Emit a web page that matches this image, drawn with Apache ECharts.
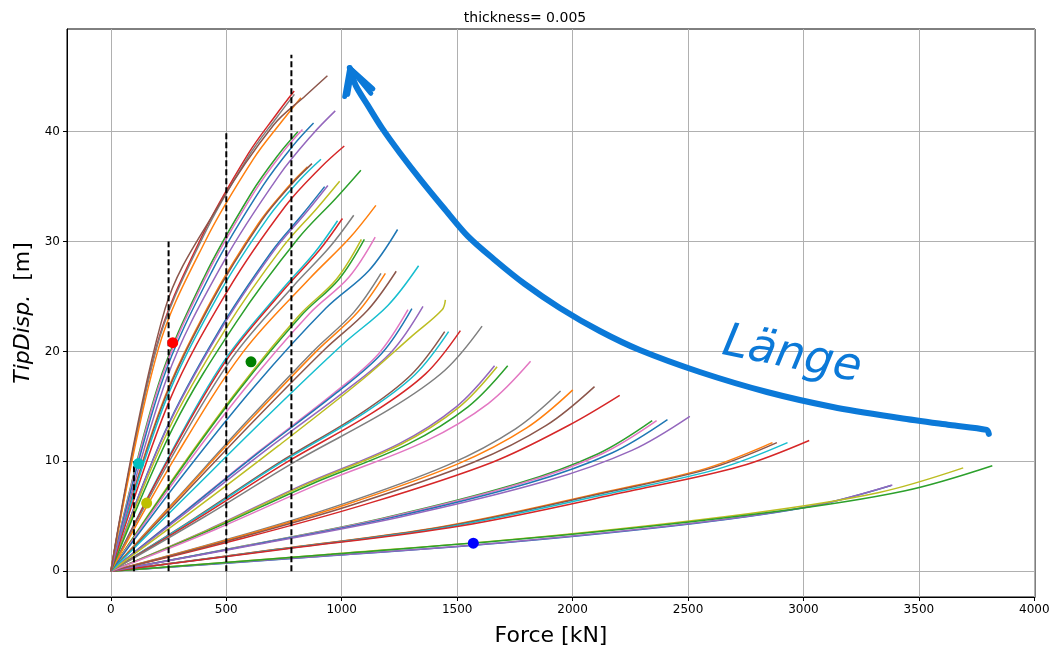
<!DOCTYPE html>
<html>
<head>
<meta charset="utf-8">
<script src="https://cdn.jsdelivr.net/npm/echarts@6/dist/echarts.min.js"></script>
<style>
  html, body { margin: 0; padding: 0; background: #fff; }
  #chart { width: 1050px; height: 646px; }
</style>
</head>
<body>
<div id="chart"></div>
<script>
// Tip displacement [m] versus tip force [kN], thickness 0.005.
// Each bundle holds four load paths ([force, displacement] points); bundles run from the
// shortest/stiffest (bundle1, lowest) to the longest/most flexible (bundle14, highest).

const FORCE_TICKS = [0, 500, 1000, 1500, 2000, 2500, 3000, 3500, 4000];
const DISP_TICKS = [0, 10, 20, 30, 40];

const bundle1 = [
  [[0,0],[845,1.25],[1690,2.57],[2535,4.37],[3042,5.93],[3380,7.8]],
  [[0,0],[846,1.26],[1693,2.59],[2539,4.4],[3047,5.97],[3385,7.85]],
  [[0,0],[923,1.5],[1846,3.1],[2769,5.26],[3323,7.14],[3692,9.4]],
  [[0,0],[955,1.54],[1909,3.17],[2864,5.38],[3436,7.3],[3818,9.6]]
];
const bundle2 = [
  [[0,0],[717,1.99],[1433,4.04],[2150,7.25],[2579,9.36],[2866,11.7]],
  [[0,0],[721,1.99],[1443,4.04],[2164,7.25],[2597,9.36],[2885,11.7]],
  [[0,0],[733,1.99],[1466,4.04],[2198,7.25],[2638,9.36],[2931,11.7]],
  [[0,0],[756,2.02],[1513,4.11],[2269,7.38],[2723,9.52],[3025,11.9]]
];
const bundle3 = [
  [[0,0],[586,2.33],[1173,4.8],[1759,7.95],[2111,10.69],[2345,13.7]],
  [[0,0],[591,2.33],[1182,4.8],[1773,7.95],[2128,10.69],[2364,13.7]],
  [[0,0],[603,2.35],[1206,4.83],[1808,8.0],[2170,10.76],[2411,13.8]],
  [[0,0],[627,2.4],[1254,4.94],[1881,8.18],[2257,11.0],[2508,14.1]]
];
const bundle4 = [
  [[0,0],[551,2.88],[1102,6.08],[1653,9.92],[1984,13.28],[2204,16.0]],
  [[0,0],[487,2.79],[974,5.9],[1461,9.68],[1753,12.96],[1948,16.4]],
  [[0,0],[500,2.81],[1001,5.94],[1501,9.74],[1801,13.04],[2001,16.5]],
  [[0,0],[524,2.86],[1048,6.05],[1571,9.91],[1886,13.27],[2095,16.8]]
];
const bundle5 = [
  [[0,0],[416,3.74],[831,7.85],[1247,11.59],[1496,14.96],[1662,18.7]],
  [[0,0],[418,3.72],[837,7.81],[1255,11.53],[1506,14.88],[1673,18.6]],
  [[0,0],[430,3.74],[860,7.85],[1289,11.59],[1547,14.96],[1719,18.7]],
  [[0,0],[455,3.82],[909,8.02],[1364,11.84],[1636,15.28],[1818,19.1]]
];
const bundle6 = [
  [[0,0],[362,4.8],[723,9.81],[1085,14.39],[1301,17.88],[1446,21.8]],
  [[0,0],[366,4.8],[732,9.81],[1097,14.39],[1317,17.88],[1463,21.8]],
  [[0,0],[379,4.82],[757,9.86],[1136,14.45],[1363,17.96],[1514,21.9]],
  [[0,0],[402,4.91],[804,10.04],[1206,14.72],[1447,18.29],[1608,22.3]]
];
const bundle7 = [
  [[0,0],[322,5.47],[644,10.95],[965,16.18],[1158,19.75],[1287,23.8]],
  [[0,0],[326,5.5],[652,10.99],[978,16.25],[1174,19.84],[1304,23.9]],
  [[0,0],[338,5.54],[676,11.09],[1014,16.39],[1217,20.0],[1352,24.1]],
  [[0,0],[362,5.6],[725,11.4],[1087,17.4],[1304,21.4],[1435,23.8],[1449,24.7]]
];
const bundle8 = [
  [[0,0],[293,6.78],[585,13.55],[878,20.05],[1053,23.58],[1170,27.1]],
  [[0,0],[297,6.78],[595,13.55],[892,20.05],[1070,23.58],[1189,27.1]],
  [[0,0],[309,6.83],[618,13.65],[927,20.2],[1112,23.75],[1236,27.3]],
  [[0,0],[333,6.95],[667,13.9],[1000,20.57],[1200,24.19],[1333,27.8]]
];
const bundle9 = [
  [[0,0],[271,8.46],[543,16.31],[814,23.25],[977,26.58],[1085,30.2]],
  [[0,0],[275,8.46],[549,16.31],[824,23.25],[988,26.58],[1098,30.2]],
  [[0,0],[286,8.51],[573,16.42],[859,23.41],[1031,26.75],[1145,30.4]],
  [[0,0],[311,8.71],[621,16.79],[932,23.95],[1118,27.37],[1242,31.1]]
];
const bundle10 = [
  [[0,0],[246,10.21],[491,19.14],[737,25.52],[884,29.03],[982,31.9]],
  [[0,0],[251,10.27],[502,19.26],[752,25.68],[903,29.21],[1003,32.1]],
  [[0,0],[263,10.37],[526,19.44],[789,25.92],[947,29.48],[1052,32.4]],
  [[0,0],[287,10.66],[574,19.98],[861,26.64],[1033,30.3],[1148,33.3]]
];
const bundle11 = [
  [[0,0],[232,12.6],[463,21.7],[695,29.05],[833,32.55],[926,35.0]],
  [[0,0],[235,12.64],[470,21.76],[705,29.13],[846,32.64],[940,35.1]],
  [[0,0],[248,12.78],[496,22.01],[743,29.47],[892,33.02],[991,35.5]],
  [[0,0],[271,13.14],[542,22.63],[812,30.3],[975,33.95],[1083,36.5]]
];
const bundle12 = [
  [[0,0],[213,14.72],[426,24.29],[639,31.65],[767,34.96],[852,36.8]],
  [[0,0],[218,14.84],[436,24.49],[653,31.91],[784,35.25],[871,37.1]],
  [[0,0],[228,15.0],[455,24.75],[683,32.25],[819,35.63],[910,37.5]],
  [[0,0],[253,15.48],[506,25.54],[758,33.28],[910,36.77],[1011,38.7]]
];
const bundle13 = [
  [[0,0],[203,16.8],[405,26.8],[608,34.4],[729,38.0],[810,40.0]],
  [[0,0],[208,16.88],[415,26.93],[623,34.57],[747,38.19],[830,40.2]],
  [[0,0],[220,17.14],[439,27.34],[659,35.09],[790,38.76],[878,40.8]],
  [[0,0],[243,17.6],[486,28.07],[729,36.03],[875,39.8],[972,41.9]]
];
const bundle14 = [
  [[0,0],[199,20.54],[397,30.59],[596,38.02],[715,41.52],[794,43.7]],
  [[0,0],[199,20.4],[398,30.38],[596,37.76],[716,41.23],[795,43.4]],
  [[0,0],[206,20.26],[412,30.17],[617,37.5],[741,40.95],[823,43.1]],
  [[0,0],[235,23.9],[469,33.37],[704,40.59],[844,43.3],[938,45.1]]
];

// Vertical reference force levels and the displacement they reach
const REF_FORCE = [100, 250, 500, 782];
const REF_TOP = [10, 30, 40, 47];

// Highlighted operating points
const pointForce = [268, 607, 120, 155, 1570];
const pointDisp = [20.8, 19.06, 9.8, 6.2, 2.55];
const pointColors = ['#ff0000', '#008000', '#00bfbf', '#bfbf00', '#0000ff'];

// Hand-drawn arrow showing the direction of increasing length
const arrowForce = [3803, 3794, 3634, 3417, 3127, 2842, 2551, 2291, 2118, 1945, 1793, 1663, 1546, 1442, 1343, 1252, 1174, 1113, 1061, 1035];
const arrowDisp = [12.5, 12.86, 13.31, 13.95, 14.95, 16.31, 18.13, 20.13, 21.86, 23.96, 26.14, 28.33, 30.5, 33.06, 35.6, 38.07, 40.35, 42.4, 44.2, 45.8];
const headA = [[1013, 43.2], [1035, 45.8], [1135, 43.9]];
const headB = [[1026, 43.4], [1044, 45.6], [1126, 43.5]];

const TAB10 = ['#1f77b4', '#ff7f0e', '#2ca02c', '#d62728', '#9467bd',
               '#8c564b', '#e377c2', '#7f7f7f', '#bcbd22', '#17becf'];
const INK = '#0b79d8';
const FONT = 'DejaVu Sans';

const bundles = [bundle1, bundle2, bundle3, bundle4, bundle5, bundle6, bundle7,
                 bundle8, bundle9, bundle10, bundle11, bundle12, bundle13, bundle14];

const series = [];
// plotting order: path j of every bundle, then path j+1, colours cycling through tab10
for (let j = 0; j < 4; j++) {
  for (let g = 0; g < bundles.length; g++) {
    series.push({
      type: 'line',
      data: bundles[g][j],
      symbol: 'none',
      smooth: 0.35,
      silent: true,
      z: 2,
      lineStyle: { color: TAB10[(j * bundles.length + g) % 10], width: 1.5 }
    });
  }
}

REF_FORCE.forEach((f, i) => {
  series.push({
    type: 'line',
    data: [[f, 0], [f, REF_TOP[i]]],
    symbol: 'none',
    silent: true,
    z: 4,
    lineStyle: { color: '#000', width: 2, type: [6, 3] }
  });
});

series.push({
  type: 'scatter',
  symbolSize: 11,
  silent: true,
  z: 6,
  data: pointForce.map((f, i) => ({
    value: [f, pointDisp[i]],
    itemStyle: { color: pointColors[i], opacity: 1 }
  }))
});

series.push({
  type: 'line',
  data: arrowForce.map((f, i) => [f, arrowDisp[i]]),
  symbol: 'none',
  smooth: 0.3,
  silent: true,
  z: 8,
  lineStyle: { color: INK, width: 6, cap: 'round', join: 'round' }
});
[headA, headB].forEach(h => {
  series.push({
    type: 'line',
    data: h,
    symbol: 'none',
    silent: true,
    z: 8,
    lineStyle: { color: INK, width: 5, cap: 'round', join: 'round' }
  });
});

const plainNumber = v => String(v);

const chart = echarts.init(document.getElementById('chart'), null, { renderer: 'canvas' });
chart.setOption({
  animation: false,
  backgroundColor: '#fff',
  title: {
    text: 'thickness= 0.005',
    left: 'center',
    top: 6,
    textStyle: { fontFamily: FONT, fontSize: 14, fontWeight: 'normal', color: '#000' }
  },
  grid: {
    left: 67, right: 15, top: 29, bottom: 49,
    outerBoundsMode: 'none',
    containLabel: false,
    show: true, borderColor: '#000', borderWidth: 1, backgroundColor: 'transparent'
  },
  xAxis: {
    type: 'value',
    min: -190, max: 4003,
    name: 'Force [kN]',
    nameLocation: 'middle',
    nameGap: 28,
    nameTextStyle: { fontFamily: FONT, fontSize: 22, color: '#000' },
    axisLine: { show: true, onZero: false, lineStyle: { color: '#000', width: 1 } },
    axisTick: { show: true, length: 4, customValues: FORCE_TICKS, lineStyle: { color: '#000' } },
    axisLabel: { customValues: FORCE_TICKS, formatter: plainNumber, margin: 7, fontFamily: FONT, fontSize: 12, color: '#000' },
    splitLine: { show: true, lineStyle: { color: '#b0b0b0', width: 1 } }
  },
  yAxis: {
    type: 'value',
    min: -2.35, max: 49.35,
    name: '{it|TipDisp.}  [m]',
    nameLocation: 'middle',
    nameGap: 22,
    nameTextStyle: {
      fontFamily: FONT, fontSize: 22, color: '#000',
      rich: { it: { fontFamily: FONT, fontSize: 22, fontStyle: 'italic', color: '#000' } }
    },
    axisLine: { show: true, onZero: false, lineStyle: { color: '#000', width: 1 } },
    axisTick: { show: true, length: 4, customValues: DISP_TICKS, lineStyle: { color: '#000' } },
    axisLabel: { customValues: DISP_TICKS, formatter: plainNumber, margin: 7, fontFamily: FONT, fontSize: 12, color: '#000' },
    splitLine: { show: true, lineStyle: { color: '#b0b0b0', width: 1 } }
  },
  graphic: [{
    type: 'text',
    x: 792, y: 356,
    rotation: -0.2,
    silent: true,
    z: 100,
    style: {
      text: 'Länge',
      fill: INK,
      font: 'italic 46px "DejaVu Sans"',
      align: 'center',
      verticalAlign: 'middle'
    }
  }],
  series: series
});
</script>
</body>
</html>
